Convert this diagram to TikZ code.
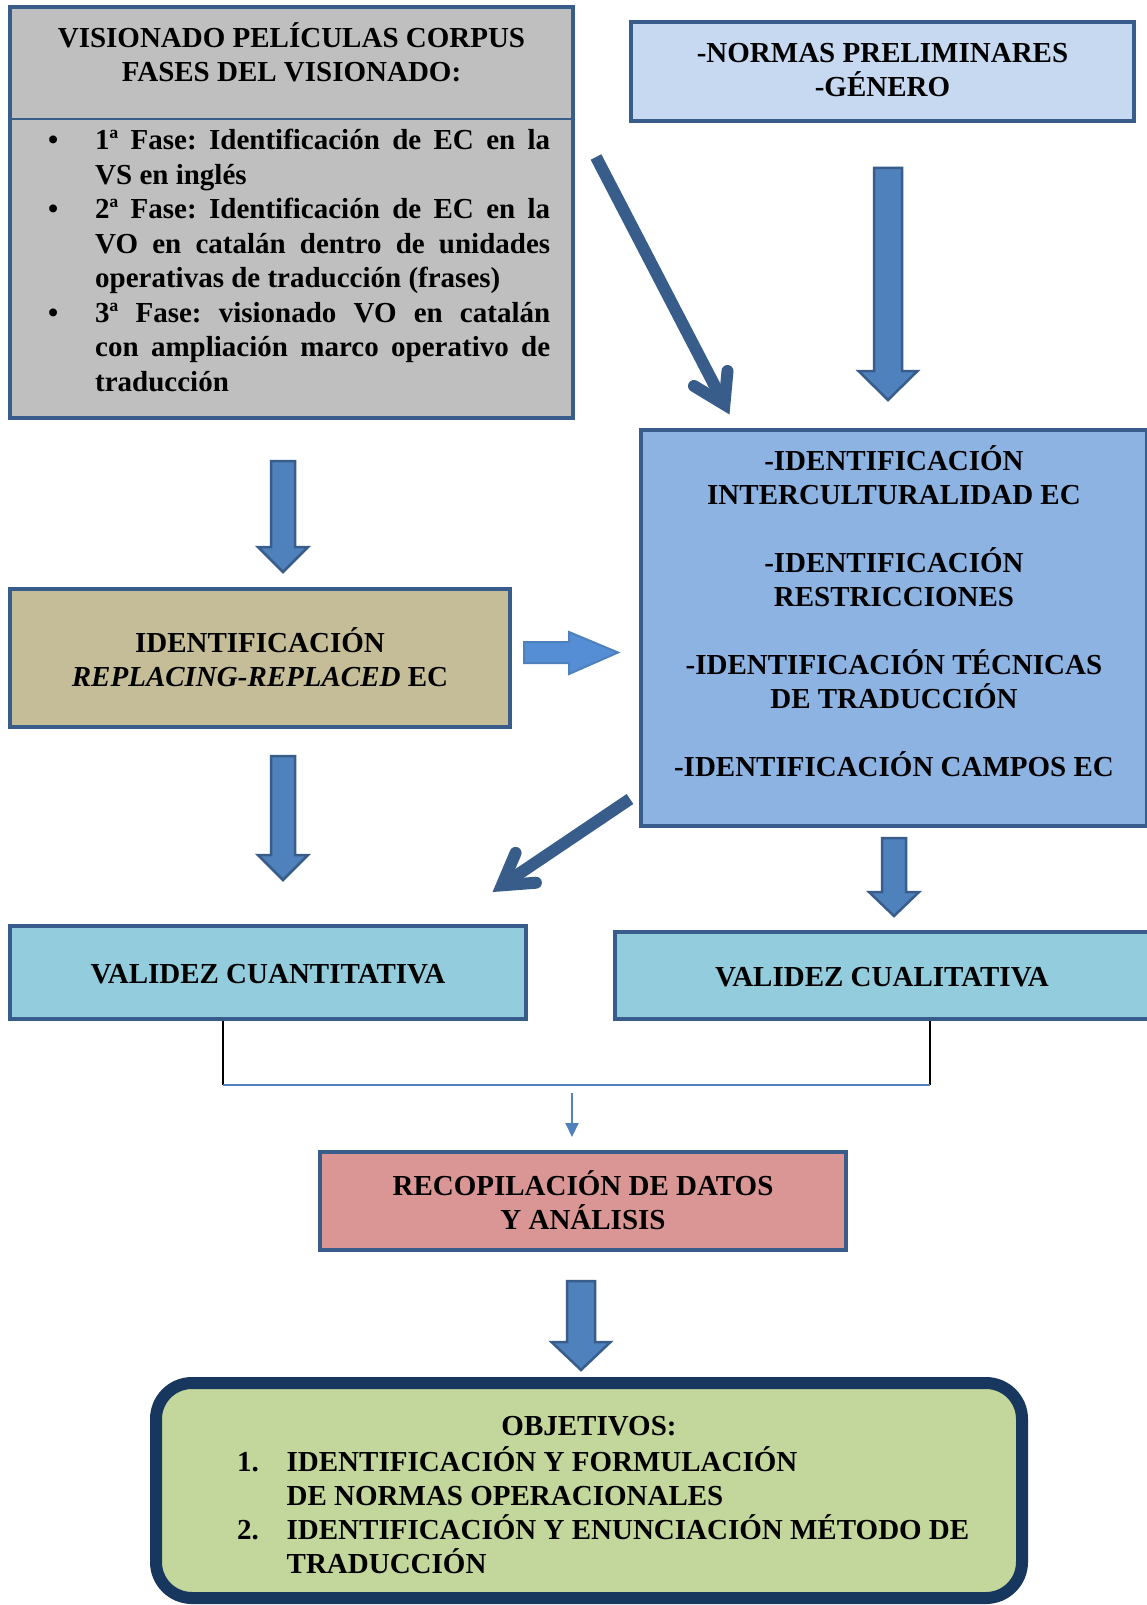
\documentclass[tikz,border=0pt]{standalone}
\usepackage{fontspec}
\setmainfont{Liberation Serif}
\usetikzlibrary{arrows.meta,calc}

\definecolor{boxline}{HTML}{385D8A}
\definecolor{grayfill}{HTML}{BFBFBF}
\definecolor{paleblue}{HTML}{C6D9F1}
\definecolor{midblue}{HTML}{8DB3E2}
\definecolor{tanfill}{HTML}{C4BD97}
\definecolor{cyanfill}{HTML}{93CDDD}
\definecolor{pinkfill}{HTML}{D99694}
\definecolor{greenfill}{HTML}{C3D69B}
\definecolor{navyline}{HTML}{17375E}
\definecolor{arrowfill}{HTML}{4F81BD}
\definecolor{brightarrow}{HTML}{558ED5}

% downward block arrow: centre x, top y, head start y, tip y, shaft half width, head half width
\newcommand{\downblock}[6]{%
  \draw[blockarrow] ({#1-#5},#2) -- ({#1+#5},#2) -- ({#1+#5},#3) -- ({#1+#6},#3)
    -- (#1,#4) -- ({#1-#6},#3) -- ({#1-#5},#3) -- cycle;}

\tikzset{
  txt/.style={font=\fontsize{29}{34}\selectfont\bfseries\frenchspacing, inner sep=0pt},
  panel/.style={draw=boxline, line width=3.5pt, inner sep=0pt},
  blockarrow/.style={fill=arrowfill, draw=boxline, line width=2.5pt, line join=miter},
  shaft/.style={draw=boxline, line width=12pt, line cap=butt},
  barb/.style={draw=boxline, line width=12pt, line cap=round, line join=miter, miter limit=10},
}

\begin{document}
\begin{tikzpicture}[x=1pt, y=-1pt]
\path[use as bounding box, fill=white] (0,0) rectangle (1146,1605);

% ---- panels ----
\node[panel, fill=grayfill, minimum width=563, minimum height=411] (b1) at (291.5,212.5) {};
\coordinate (div) at (0,119);
\draw[draw=boxline, line width=2.5pt] (b1.west |- div) -- (b1.east |- div);
\node[panel, fill=paleblue, minimum width=503, minimum height=99] (b2) at (882.5,71.5) {};
\node[panel, fill=midblue, minimum width=506, minimum height=396] (b3) at (894,628) {};
\node[panel, fill=tanfill, minimum width=500, minimum height=138] (b4) at (260,658) {};
\node[panel, fill=cyanfill, minimum width=516, minimum height=93] (b5) at (268,972.5) {};
\node[panel, fill=cyanfill, minimum width=534, minimum height=87] (b6) at (882,975.5) {};
\node[panel, fill=pinkfill, minimum width=526, minimum height=98] (b7) at (583,1201) {};
\node[draw=navyline, line width=12pt, fill=greenfill, rounded corners=36pt,
      minimum width=866, minimum height=215, inner sep=0pt] (b8) at (589,1490.5) {};

% ---- texts ----
\node[txt, align=center] (t1) at (291.5,52) {VISIONADO PELÍCULAS CORPUS\\FASES DEL VISIONADO:};
\node[txt, font=\fontsize{29}{34.5}\selectfont\bfseries\frenchspacing, align=left, anchor=west] (phases) at (48,260.5) {%
  \makebox[47pt][l]{•}\makebox[455pt][s]{1ª Fase: Identificación de EC en la}\\
  \hspace*{47pt}VS en inglés\\
  \makebox[47pt][l]{•}\makebox[455pt][s]{2ª Fase: Identificación de EC en la}\\
  \hspace*{47pt}\makebox[455pt][s]{VO en catalán dentro de unidades}\\
  \hspace*{47pt}operativas de traducción (frases)\\
  \makebox[47pt][l]{•}\makebox[455pt][s]{3ª Fase: visionado VO en catalán}\\
  \hspace*{47pt}\makebox[455pt][s]{con ampliación marco operativo de}\\
  \hspace*{47pt}traducción};
\node[txt, align=center] (t2) at (882.5,70) {-NORMAS PRELIMINARES\\-GÉNERO};
\node[txt, align=center] (t3) at (894,611) {%
  -IDENTIFICACIÓN\\INTERCULTURALIDAD EC\\[34pt]
  -IDENTIFICACIÓN\\RESTRICCIONES\\[34pt]
  -IDENTIFICACIÓN TÉCNICAS\\DE TRADUCCIÓN\\[34pt]
  -IDENTIFICACIÓN CAMPOS EC};
\node[txt, align=center] (t4) at (260,657) {IDENTIFICACIÓN\\\textit{REPLACING-REPLACED} EC};
\node[txt] (t5) at (268,974) {VALIDEZ CUANTITATIVA};
\node[txt] (t6) at (882,977) {VALIDEZ CUALITATIVA};
\node[txt, align=center] (t7) at (583,1200) {RECOPILACIÓN DE DATOS\\Y ANÁLISIS};
\node[txt] (t8) at (589,1426) {OBJETIVOS:};
\node[txt, align=left, anchor=west] (t9) at (237,1510) {%
  \makebox[49.5pt][l]{1.}IDENTIFICACIÓN Y FORMULACIÓN\\
  \hspace*{49.5pt}DE NORMAS OPERACIONALES\\
  \makebox[49.5pt][l]{2.}IDENTIFICACIÓN Y ENUNCIACIÓN MÉTODO DE\\
  \hspace*{49.5pt}TRADUCCIÓN};

% ---- block arrows ----
\downblock{888}{168}{371}{400}{14}{29.5}
\downblock{283}{461}{547}{572}{12}{25}
\downblock{283}{756}{855}{880}{12}{25}
\downblock{894}{838}{892}{916}{12}{25}
\downblock{581}{1281}{1342}{1370}{14}{29.5}
\draw[blockarrow, fill=brightarrow, draw=arrowfill, line width=2pt]
  (524,642) -- (569,642) -- (569,632) -- (618,652.5) -- (569,674) -- (569,663) -- (524,663) -- cycle;

% ---- diagonal arrows ----
\coordinate (d1s) at (596,157);
\coordinate (d1v) at (724.4,404.4);
\draw[shaft] (d1s) -- (d1v);
\draw[barb] (694,386) -- (d1v) -- (727.5,371);

\coordinate (d2s) at (630,799);
\coordinate (d2v) at (501.9,885.3);
\draw[shaft] (d2s) -- (d2v);
\draw[barb] (515.6,852.9) -- (d2v) -- (535.9,882.7);

% ---- joining connector into the data box ----
\coordinate (j1) at (223,1085);
\coordinate (j2) at (930,1085);
\draw[black, line width=2pt] (b5.south -| j1) -- (j1);
\draw[black, line width=2pt] (b6.south -| j2) -- (j2);
\draw[arrowfill, line width=2.5pt] (j1) -- (j2);
\coordinate (s1) at (572,1093);
\coordinate (s2) at (572,1137);
\draw[arrowfill, line width=2pt, -{Triangle[length=14pt,width=13pt]}] (s1) -- (s2);
\end{tikzpicture}
\end{document}
